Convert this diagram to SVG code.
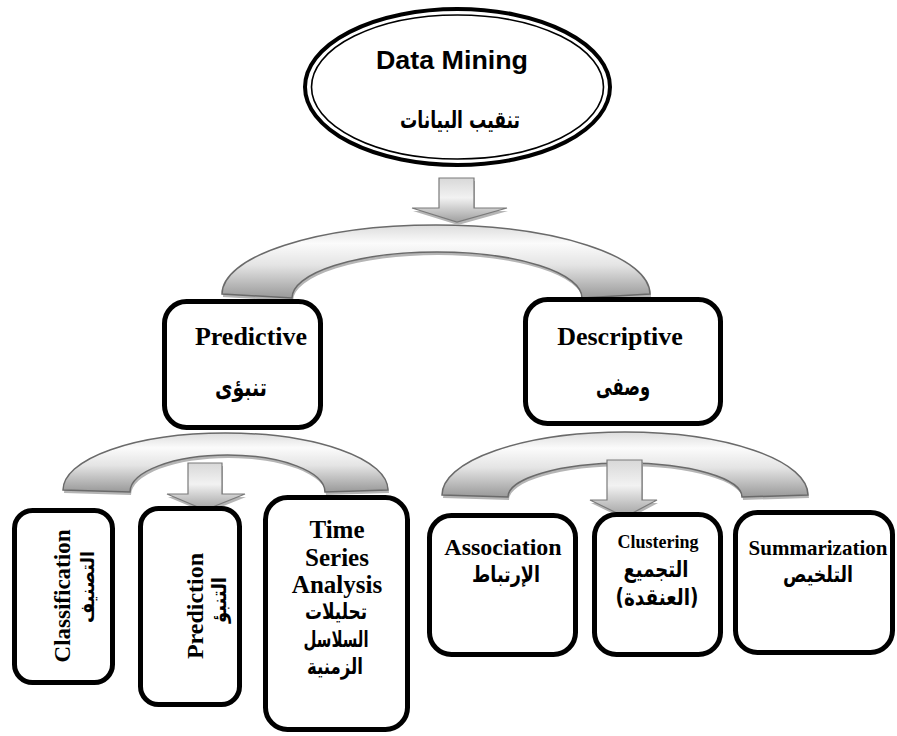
<svg xmlns="http://www.w3.org/2000/svg" xmlns:xlink="http://www.w3.org/1999/xlink" width="897" height="736" viewBox="0 0 897 736">
  <style>
    .box { fill: #ffffff; stroke: #000000; stroke-width: 5; }
    .lat { font-family: "Liberation Serif", "Times New Roman", serif; font-weight: bold; fill: #000; text-anchor: middle; }
    .ara { font-family: "DejaVu Sans", "Noto Sans", sans-serif; font-weight: bold; fill: #000; text-anchor: middle; }
    .sans { font-family: "Liberation Sans", Arial, sans-serif; font-weight: bold; fill: #000; text-anchor: middle; }
    .band { fill: url(#bandFill); stroke: #6a6a6a; stroke-width: 1.5; }
    .arrow { fill: url(#arrowFill); stroke: #7a7a7a; stroke-width: 1.2; }
    .shade { fill: #b5b5b5; stroke: none; }
  </style>
  <defs>
    <linearGradient id="bandFill" x1="0" y1="0" x2="0" y2="1">
      <stop offset="0" stop-color="#dcdcdc"/>
      <stop offset="0.25" stop-color="#fbfbfb"/>
      <stop offset="0.55" stop-color="#e4e4e4"/>
      <stop offset="1" stop-color="#999999"/>
    </linearGradient>
    <linearGradient id="arrowFill" x1="0" y1="0" x2="0" y2="1">
      <stop offset="0" stop-color="#d8d8d8"/>
      <stop offset="0.45" stop-color="#f2f2f2"/>
      <stop offset="1" stop-color="#a0a0a0"/>
    </linearGradient>
    <path id="bandTop" d="M222 294 A214 69 0 0 1 650 294 L582 298 A145 46 0 0 0 292 298 Z"/>
    <path id="bandLeft" d="M63 490 A162.5 57 0 0 1 388 490 L325 492 A97.5 37 0 0 0 130 492 Z"/>
    <path id="bandRight" d="M442 495 A183 63 0 0 1 808 495 L742 497 A117 34 0 0 0 508 497 Z"/>
    <path id="arrowTop" d="M439 178 H474 V208 H507 L457 222 L412 208 H439 Z"/>
    <path id="arrowLeft" d="M188 463 H222 V494 H245 L205 510 L167 494 H188 Z"/>
    <path id="arrowRight" d="M607 460 H642 V500 H657 L625 517 L590 500 H607 Z"/>
  </defs>

  <rect x="0" y="0" width="897" height="736" fill="#ffffff"/>

  <!-- curved splitters and down arrows -->
  <g id="connectors">
    <use xlink:href="#bandTop" class="shade" transform="translate(1,3)"/>
    <use xlink:href="#bandTop" class="band"/>
    <use xlink:href="#arrowTop" class="shade" transform="translate(1,3)"/>
    <use xlink:href="#arrowTop" class="arrow"/>

    <use xlink:href="#bandLeft" class="shade" transform="translate(1,3)"/>
    <use xlink:href="#bandLeft" class="band"/>
    <use xlink:href="#arrowLeft" class="shade" transform="translate(1,3)"/>
    <use xlink:href="#arrowLeft" class="arrow"/>

    <use xlink:href="#bandRight" class="shade" transform="translate(1,3)"/>
    <use xlink:href="#bandRight" class="band"/>
    <use xlink:href="#arrowRight" class="shade" transform="translate(1,3)"/>
    <use xlink:href="#arrowRight" class="arrow"/>
  </g>

  <!-- root -->
  <g id="data-mining">
    <ellipse cx="457.5" cy="87" rx="152.5" ry="78" fill="#ffffff" stroke="#000" stroke-width="4"/>
    <ellipse cx="457.5" cy="87" rx="146" ry="72" fill="none" stroke="#000" stroke-width="1.6"/>
    <text class="sans" x="452" y="69" font-size="25" textLength="152" lengthAdjust="spacingAndGlyphs">Data Mining</text>
    <text class="ara" x="460" y="128" font-size="24" direction="rtl" textLength="120" lengthAdjust="spacingAndGlyphs">تنقيب البيانات</text>
  </g>

  <!-- second level -->
  <g id="predictive">
    <rect class="box" x="164.5" y="301.5" width="156" height="126" rx="22"/>
    <text class="lat" x="251" y="345" font-size="26">Predictive</text>
    <text class="ara" x="241" y="396" font-size="25" direction="rtl" textLength="52" lengthAdjust="spacingAndGlyphs">تنبؤى</text>
  </g>
  <g id="descriptive">
    <rect class="box" x="525.5" y="299.5" width="195" height="124" rx="22"/>
    <text class="lat" x="620" y="345" font-size="26">Descriptive</text>
    <text class="ara" x="623" y="395" font-size="25" direction="rtl" textLength="54" lengthAdjust="spacingAndGlyphs">وصفى</text>
  </g>

  <!-- predictive tasks -->
  <g id="classification">
    <rect class="box" x="14.5" y="510.5" width="98" height="172" rx="18"/>
    <text class="lat" transform="translate(70,596) rotate(-90)" font-size="23">Classification</text>
    <text class="ara" transform="translate(94,587) rotate(-90)" font-size="19" direction="rtl" textLength="72" lengthAdjust="spacingAndGlyphs">التصنيف</text>
  </g>
  <g id="prediction">
    <rect class="box" x="140.5" y="508.5" width="99" height="196" rx="18"/>
    <text class="lat" transform="translate(203,606) rotate(-90)" font-size="24">Prediction</text>
    <text class="ara" transform="translate(226,600) rotate(-90)" font-size="20" direction="rtl" textLength="46" lengthAdjust="spacingAndGlyphs">التنبؤ</text>
  </g>
  <g id="time-series">
    <rect class="box" x="265.5" y="497.5" width="142" height="232" rx="22"/>
    <text class="lat" x="337" y="538" font-size="25">Time</text>
    <text class="lat" x="337" y="566" font-size="25">Series</text>
    <text class="lat" x="337" y="593" font-size="25">Analysis</text>
    <text class="ara" x="336" y="619" font-size="22" direction="rtl" textLength="62" lengthAdjust="spacingAndGlyphs">تحليلات</text>
    <text class="ara" x="336" y="647" font-size="22" direction="rtl" textLength="65" lengthAdjust="spacingAndGlyphs">السلاسل</text>
    <text class="ara" x="335" y="674" font-size="22" direction="rtl" textLength="56" lengthAdjust="spacingAndGlyphs">الزمنية</text>
  </g>

  <!-- descriptive tasks -->
  <g id="association">
    <rect class="box" x="429.5" y="515.5" width="146" height="139" rx="22"/>
    <text class="lat" x="503" y="555" font-size="24">Association</text>
    <text class="ara" x="506" y="582" font-size="22" direction="rtl" textLength="68" lengthAdjust="spacingAndGlyphs">الإرتباط</text>
  </g>
  <g id="clustering">
    <rect class="box" x="594.5" y="514.5" width="126" height="140" rx="22"/>
    <text class="lat" x="658" y="548" font-size="18">Clustering</text>
    <text class="ara" x="656" y="577" font-size="23" direction="rtl" textLength="65" lengthAdjust="spacingAndGlyphs">التجميع</text>
    <text class="ara" x="657" y="605" font-size="23" direction="rtl" textLength="83" lengthAdjust="spacingAndGlyphs">(العنقدة)</text>
  </g>
  <g id="summarization">
    <rect class="box" x="735.5" y="512.5" width="157" height="140" rx="22"/>
    <text class="lat" x="818" y="555" font-size="21">Summarization</text>
    <text class="ara" x="818" y="582" font-size="22" direction="rtl" textLength="70" lengthAdjust="spacingAndGlyphs">التلخيص</text>
  </g>
</svg>
